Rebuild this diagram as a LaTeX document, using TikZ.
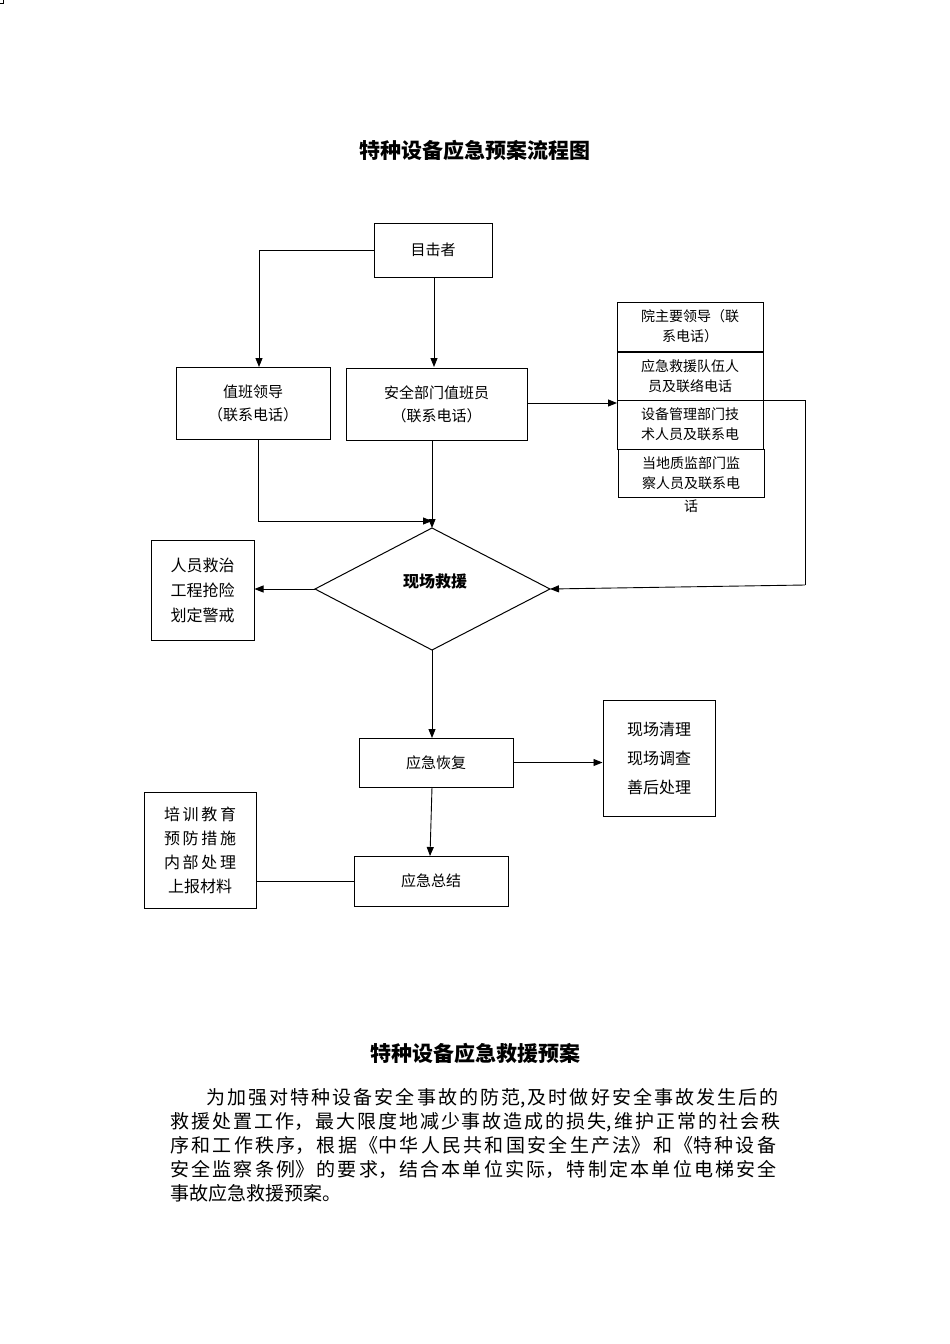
\documentclass[tikz,border=0pt]{standalone}
\usepackage{fontspec}
\setmainfont{Noto Sans CJK SC}
\usetikzlibrary{arrows.meta}
\XeTeXlinebreaklocale "zh"
\XeTeXlinebreakskip=0pt plus 3pt
\begin{document}
\begin{tikzpicture}[x=1pt,y=-1pt,
  bx/.style={draw,line width=1pt,inner sep=0pt,align=center,font=\fontsize{15}{23}\selectfont},
  ar/.style={line width=0.9pt,-{Triangle[length=9pt,width=7pt]}},
  ln/.style={line width=0.9pt}]
\useasboundingbox (0,0) rectangle (950,1344);
\node[font=\fontsize{21}{25}\selectfont\bfseries] (t1) at (475,150) {特种设备应急预案流程图};
\node[bx,minimum width=118pt,minimum height=54pt] (w) at (433,250) {目击者};
\node[bx,minimum width=154pt,minimum height=72pt] (zb) at (253,403) {值班领导\\（联系电话）};
\node[bx,minimum width=181pt,minimum height=72pt] (aq) at (436.5,404) {安全部门值班员\\（联系电话）};
\node[bx,minimum width=146pt,minimum height=49pt,font=\fontsize{14}{20}\selectfont] (r1) at (690,326.5) {院主要领导（联\\系电话）};
\node[bx,minimum width=146pt,minimum height=48pt,font=\fontsize{14}{20}\selectfont] (r2) at (690,376) {应急救援队伍人\\员及联络电话};
\node[bx,minimum width=146pt,minimum height=49pt,font=\fontsize{14}{20}\selectfont] (r3) at (690,424.5) {设备管理部门技\\术人员及联系电};
\node[bx,minimum width=146pt,minimum height=48pt,font=\fontsize{14}{20}\selectfont] (r4) at (691,473) {当地质监部门监\\察人员及联系电};
\node[font=\fontsize{14}{16}\selectfont] (r4b) at (691,506) {话};
\node[draw,line width=1pt,shape=rectangle,minimum width=0pt] (dummy) at (0,0) {} ;
\coordinate (dT) at (432,528); \coordinate (dL) at (315,589); \coordinate (dR) at (550,589); \coordinate (dB) at (432,650);
\draw[line width=1pt] (dT) -- (dR) -- (dB) -- (dL) -- cycle;
\node[font=\fontsize{16}{20}\selectfont\bfseries] (xc) at (435,581) {现场救援};
\node[bx,minimum width=103pt,minimum height=100pt,font=\fontsize{16}{25}\selectfont] (ry) at (202.5,590) {人员救治\\工程抢险\\划定警戒};
\node[bx,minimum width=154pt,minimum height=49pt] (hf) at (436,762.5) {应急恢复};
\node[bx,minimum width=112pt,minimum height=116pt,font=\fontsize{16}{29}\selectfont] (xq) at (659,758) {现场清理\\现场调查\\善后处理};
\node[bx,minimum width=154pt,minimum height=50pt] (zj) at (431,881) {应急总结};
\node[bx,minimum width=112pt,minimum height=116pt,font=\fontsize{16}{24}\selectfont] (px) at (200,850) {培\,训\,教\,育\\预\,防\,措\,施\\内\,部\,处\,理\\上报材料};
% connectors
\draw[ar] (w.west) -- (259,250) -- (259,367);
\draw[ar] (434,277) -- (434,367);
\draw[ar] (258,439) -- (258,521) -- (432,521);
\draw[ar] (432,440) -- (dT);
\draw[ar] (aq.east |- 0,403) -- (617,403);
\draw[ln] (763,400) -- (805,400) -- (805,585);
\draw[ar] (805,585) -- (dR);
\draw[ar] (dL) -- (ry.east |- dL);
\draw[ar] (dB) -- (432,738);
\draw[ar] (hf.east) -- (xq.west |- hf.east);
\draw[ar] (432,787) -- (430,856);
\draw[ln] (zj.west) -- (px.east |- zj.west);
% second part
\node[font=\fontsize{21}{25}\selectfont\bfseries] (t2) at (475,1053) {特种设备应急救援预案};
\node[anchor=north west,inner sep=0pt,text width=635pt,font=\fontsize{19}{24}\selectfont] (para) at (170,1088) {\parindent=36pt\indent 为加强对特种设备安全事故的防范,及时做好安全事故发生后的\linebreak 救援处置工作，最大限度地减少事故造成的损失,维护正常的社会秩\linebreak 序和工作秩序，根据《中华人民共和国安全生产法》和《特种设备\linebreak 安全监察条例》的要求，结合本单位实际，特制定本单位电梯安全\linebreak 事故应急救援预案。};
\end{tikzpicture}
\end{document}
